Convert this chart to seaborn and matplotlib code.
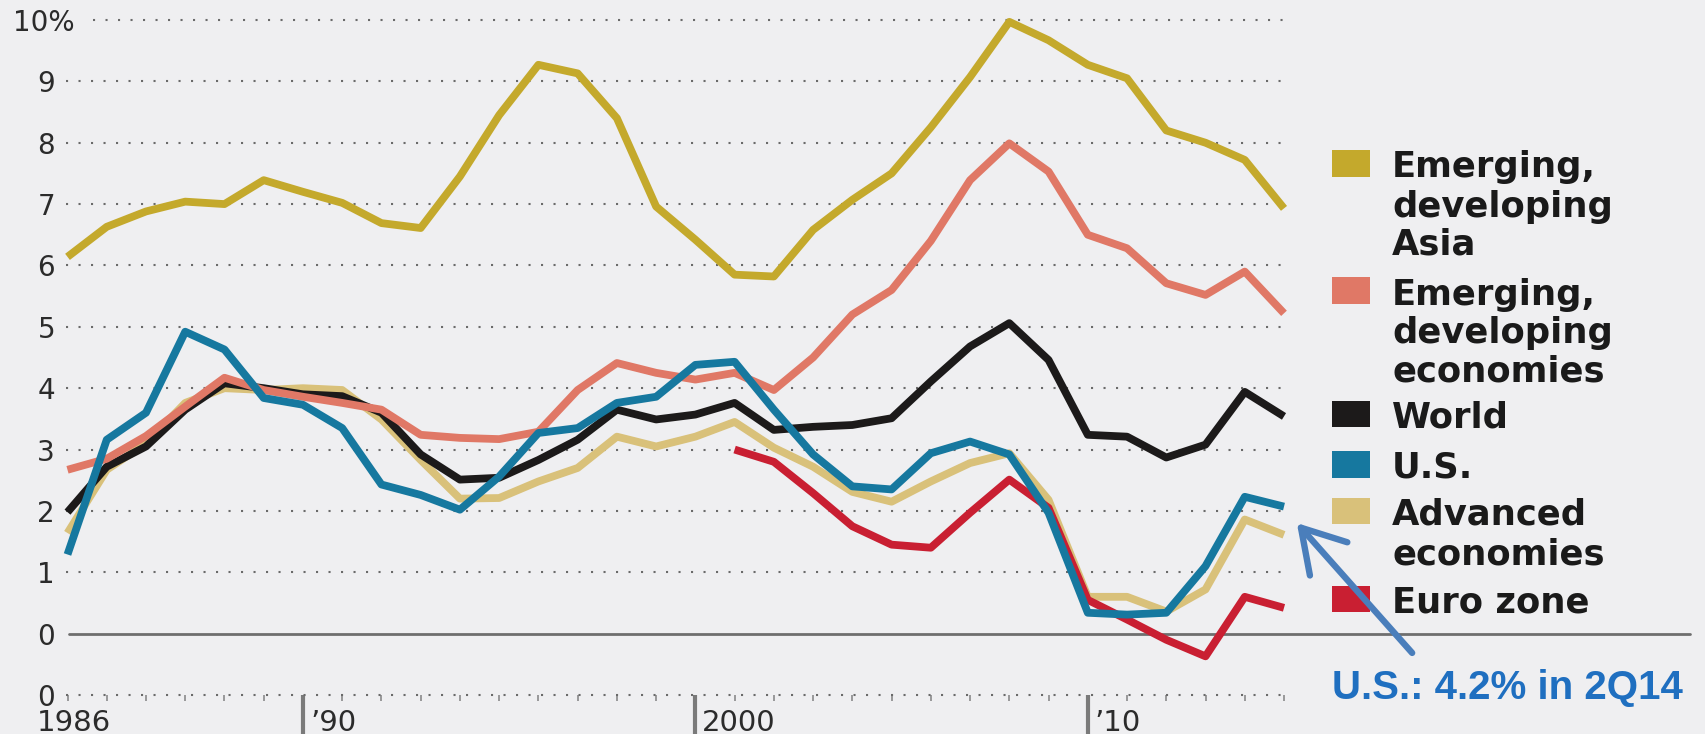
import numpy as np
import pandas as pd
import matplotlib
matplotlib.use("Agg")
import matplotlib.pyplot as plt
from matplotlib.patches import Rectangle, FancyArrowPatch
import seaborn as sns

# Real GDP growth, %, annual points
years = list(range(1984, 2016))
asia = [6.14, 6.63, 6.88, 7.04, 7.00, 7.39, 7.20, 7.02, 6.69, 6.61, 7.45, 8.45,
        9.27, 9.13, 8.40, 6.96, 6.42, 5.85, 5.82, 6.58, 7.07, 7.50, 8.25, 9.07,
        9.97, 9.67, 9.27, 9.05, 8.20, 8.00, 7.72, 6.93]
emerging = [2.67, 2.85, 3.22, 3.70, 4.17, 3.97, 3.86, 3.76, 3.65, 3.24, 3.19, 3.17,
            3.29, 3.97, 4.41, 4.25, 4.14, 4.25, 3.97, 4.50, 5.20, 5.60, 6.40, 7.39,
            7.99, 7.53, 6.50, 6.28, 5.71, 5.52, 5.90, 5.22]
world = [1.98, 2.72, 3.05, 3.65, 4.08, 4.00, 3.90, 3.87, 3.60, 2.92, 2.51, 2.54,
         2.83, 3.16, 3.65, 3.49, 3.57, 3.76, 3.32, 3.37, 3.40, 3.51, 4.11, 4.68,
         5.06, 4.46, 3.24, 3.21, 2.87, 3.08, 3.94, 3.54]
us = [1.29, 3.16, 3.60, 4.92, 4.63, 3.84, 3.73, 3.35, 2.43, 2.26, 2.02, 2.56,
      3.27, 3.35, 3.76, 3.86, 4.38, 4.43, 3.65, 2.92, 2.40, 2.35, 2.94, 3.13,
      2.92, 1.97, 0.34, 0.31, 0.34, 1.10, 2.23, 2.07]
advanced = [1.64, 2.67, 3.10, 3.76, 4.00, 3.97, 4.00, 3.97, 3.49, 2.83, 2.20, 2.21,
            2.48, 2.70, 3.21, 3.05, 3.21, 3.45, 3.03, 2.72, 2.31, 2.15, 2.48, 2.78,
            2.94, 2.18, 0.60, 0.60, 0.36, 0.72, 1.86, 1.61]
euro_years = list(range(2001, 2016))
euro = [3.00, 2.80, 2.29, 1.75, 1.45, 1.40, 1.97, 2.51, 2.05, 0.55, 0.23, -0.10,
        -0.37, 0.60, 0.42]

series_names = ["Emerging,\ndeveloping\nAsia", "Emerging,\ndeveloping\neconomies",
                "World", "U.S.", "Advanced\neconomies", "Euro zone"]
colors = ["#C4A92C", "#E07866", "#1C1A1A", "#16789F", "#D9C17A", "#C91F32"]
y_ticks = list(range(-1, 11))
y_tick_labels = ["0", "0", "1", "2", "3", "4", "5", "6", "7", "8", "9", "10%"]
x_major = [1990, 2000, 2010]
x_major_labels = ["\u201990", "2000", "\u201910"]
first_label = "1986"
note = "U.S.: 4.2% in 2Q14"

frames = []
for name, vals, yrs in zip(series_names,
                           [asia, emerging, world, us, advanced, euro],
                           [years] * 5 + [euro_years]):
    frames.append(pd.DataFrame({"year": yrs, "growth": vals, "series": name}))
df = pd.concat(frames, ignore_index=True)

sns.set_theme(style="white")
plt.rcParams["font.family"] = ["DejaVu Sans"]

BG = "#EFEFF1"
W, H = 1705, 734
fig = plt.figure(figsize=(W / 100, H / 100), dpi=100, facecolor=BG)


def fx(px):
    return px / W


def fy(py):
    return 1 - py / H


ax_left, ax_right = 62, 1290
ax_top, ax_bottom = 20, 695
ax = fig.add_axes([fx(ax_left), fy(ax_bottom), fx(ax_right - ax_left),
                   (ax_bottom - ax_top) / H])
ax.set_facecolor(BG)
for s in ax.spines.values():
    s.set_visible(False)

step = 39.24
ax.set_xlim(1984 - 5.5 / step, 2015 + 6 / step)
ax.set_ylim(-1, 10)

# drawing order: Asia, advanced, world, emerging, euro, U.S. on top
z_order = {series_names[0]: 3, series_names[4]: 4, series_names[2]: 5,
           series_names[1]: 6, series_names[5]: 7, series_names[3]: 8}
for name, col in zip(series_names, colors):
    sub = df[df["series"] == name]
    sns.lineplot(data=sub, x="year", y="growth", ax=ax, color=col, linewidth=5.6,
                 legend=False, zorder=z_order[name], clip_on=False,
                 solid_joinstyle="round", solid_capstyle="butt")
ax.set_xlabel("")
ax.set_ylabel("")

# dotted gridlines
ytr = ax.get_yaxis_transform()
span = ax_right - ax_left
grid_end = (1283 - ax_left) / span
for v in range(1, 11):
    start = (93 - ax_left) / span if v == 10 else 0.003
    ax.plot([start, grid_end], [v, v], transform=ytr, color="#6A6A6A", lw=1.5,
            ls=(0, (1, 5)), zorder=1, clip_on=False)
# bottom baseline (dotted) and zero line (solid, running under the legend)
ax.plot([0.003, grid_end], [-1, -1], transform=ytr, color="#6A6A6A", lw=1.5,
        ls=(0, (1, 5)), zorder=1, clip_on=False)
ax.plot([(69 - ax_left) / span, (1690 - ax_left) / span], [0, 0], transform=ytr,
        color="#6E6E6E", lw=2.0, zorder=2, clip_on=False)

# y tick labels
ax.set_yticks([])
lab_x = (55 - ax_left) / span
for v, lab in zip(y_ticks, y_tick_labels):
    if lab.endswith("%"):
        ax.text((13 - ax_left) / span, v, lab, transform=ytr, ha="left",
                va="center_baseline", fontsize=20, color="#2B2B2B")
    else:
        ax.text(lab_x, v, lab, transform=ytr, ha="right", va="center_baseline",
                fontsize=20, color="#2B2B2B")

# x ticks: small yearly ticks and long major ticks
ax.set_xticks(years, minor=True)
ax.set_xticks(x_major)
ax.set_xticklabels([])
ax.tick_params(axis="x", which="minor", direction="out", length=4, width=1.2,
               color="#8A8A8A", bottom=True)
ax.tick_params(axis="x", which="major", direction="out", length=29, width=3,
               color="#7A7A7A", bottom=True)

xtr = ax.get_xaxis_transform()
base_y = -(731 - ax_bottom) / (ax_bottom - ax_top)  # baseline of year labels
for xv, lab in zip(x_major, x_major_labels):
    ax.text(xv + 7 / step, base_y, lab, transform=xtr, ha="left", va="baseline",
            fontsize=21, color="#2B2B2B", clip_on=False)
fig.text(fx(37), fy(731), first_label, ha="left", va="baseline", fontsize=21,
         color="#2B2B2B")

# legend: colour squares with labels
sq_x, sq_w = 1332, 38
squares = [(150, 177), (277, 304), (401, 427), (451, 478), (498, 524), (586, 612)]
line_centres = [[163, 203, 241], [291, 329, 368], [414], [464], [511, 551], [599]]
for name, col, (top, bot), centres in zip(series_names, colors, squares, line_centres):
    fig.add_artist(Rectangle((fx(sq_x), fy(bot)), fx(sq_w), (bot - top) / H,
                             transform=fig.transFigure, facecolor=col,
                             edgecolor="none"))
    for line, cy in zip(name.split("\n"), centres):
        fig.text(fx(1392), fy(cy), line, ha="left", va="center_baseline",
                 fontsize=25.5, fontweight="bold", color="#1A1A1A")

# note with arrow pointing to the end of the U.S. line
fig.text(fx(1332), fy(684), note, ha="left", va="center_baseline", fontsize=29,
         fontweight="bold", color="#1F6FC0", family=["Liberation Sans", "DejaVu Sans"])
arrow = FancyArrowPatch((fx(1414), fy(655)), (fx(1295), fy(521)),
                        transform=fig.transFigure,
                        arrowstyle="->,head_length=1.0,head_width=0.6",
                        mutation_scale=30, color="#4A7EBB", lw=4.6)
fig.add_artist(arrow)

fig.savefig("out.png", dpi=100, facecolor=BG)
